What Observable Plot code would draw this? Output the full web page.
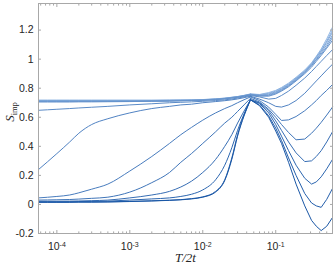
<!DOCTYPE html>
<html><head><meta charset="utf-8">
<script src="https://cdn.jsdelivr.net/npm/d3@7"></script>
<script src="https://cdn.jsdelivr.net/npm/@observablehq/plot@0.6"></script>
<style>html,body{margin:0;padding:0;background:#fff}svg{display:block}</style>
</head><body><div id="chart"></div>
<script>
// temperature grid T/2t
const T = [5.6e-5,1e-4,1.5e-4,2e-4,3e-4,5e-4,1e-3,2e-3,3.5e-3,5e-3,7e-3,0.01,0.015,0.02,0.025,0.03,0.045,
           0.06,0.08,0.1,0.12,0.15,0.19,0.25,0.31,0.36,0.42,0.5,0.6];
// S_imp curves, lightest (s0) to darkest (s13)
const s0  = [0.718,0.718,0.718,0.718,0.718,0.718,0.718,0.718,0.719,0.72,0.72,0.722,0.727,0.732,0.738,0.743,0.76, 0.757,0.77,0.785,0.805,0.835,0.875,0.925,0.975,1.02,1.07,1.14,1.22];
const s1  = [0.716,0.716,0.716,0.716,0.716,0.716,0.716,0.716,0.717,0.718,0.719,0.721,0.726,0.731,0.737,0.742,0.76, 0.755,0.765,0.78,0.80,0.83,0.87,0.92,0.97,1.015,1.06,1.125,1.20];
const s2  = [0.714,0.714,0.714,0.714,0.714,0.714,0.714,0.715,0.716,0.717,0.718,0.72,0.725,0.73,0.736,0.741,0.758, 0.752,0.76,0.775,0.795,0.825,0.865,0.915,0.965,1.01,1.055,1.115,1.185];
const s3  = [0.712,0.712,0.712,0.712,0.712,0.712,0.712,0.713,0.714,0.715,0.717,0.719,0.724,0.729,0.735,0.74,0.757, 0.75,0.755,0.77,0.79,0.82,0.86,0.91,0.96,1.0,1.045,1.10,1.165];
const s4  = [0.709,0.709,0.709,0.709,0.709,0.709,0.71,0.711,0.712,0.714,0.716,0.718,0.723,0.728,0.734,0.739,0.756, 0.75,0.75,0.765,0.785,0.815,0.855,0.905,0.955,0.995,1.035,1.085,1.15];
const s5  = [0.705,0.705,0.705,0.706,0.706,0.707,0.708,0.71,0.711,0.713,0.715,0.717,0.722,0.727,0.733,0.738,0.755, 0.745,0.745,0.76,0.78,0.81,0.85,0.90,0.945,0.985,1.025,1.075,1.13];
const s6  = [0.648,0.655,0.66,0.664,0.669,0.675,0.685,0.693,0.70,0.703,0.706,0.71,0.715,0.72,0.726,0.732,0.75, 0.74,0.725,0.73,0.75,0.78,0.82,0.87,0.915,0.95,0.985,1.025,1.065];
const s7  = [0.24,0.35,0.43,0.49,0.55,0.59,0.63,0.66,0.675,0.685,0.69,0.70,0.708,0.714,0.72,0.726,0.745, 0.725,0.70,0.675,0.67,0.685,0.715,0.765,0.815,0.85,0.885,0.925,0.965];
const s8  = [0.045,0.055,0.065,0.08,0.105,0.14,0.23,0.33,0.42,0.48,0.53,0.58,0.63,0.66,0.68,0.70,0.74, 0.715,0.67,0.62,0.578,0.582,0.605,0.645,0.685,0.715,0.75,0.785,0.825];
const s9  = [0.03,0.032,0.034,0.037,0.042,0.05,0.085,0.15,0.22,0.29,0.35,0.42,0.5,0.56,0.60,0.64,0.73, 0.705,0.655,0.60,0.55,0.495,0.445,0.45,0.49,0.525,0.565,0.615,0.67];
const s10 = [0.022,0.022,0.023,0.024,0.026,0.03,0.045,0.065,0.09,0.12,0.16,0.22,0.31,0.40,0.48,0.56,0.72, 0.70,0.645,0.575,0.51,0.43,0.355,0.295,0.30,0.33,0.37,0.43,0.50];
const s11 = [0.018,0.018,0.019,0.02,0.021,0.023,0.03,0.038,0.045,0.055,0.07,0.10,0.17,0.27,0.39,0.51,0.72, 0.695,0.63,0.55,0.47,0.37,0.27,0.18,0.14,0.155,0.19,0.245,0.31];
const s12 = [0.016,0.016,0.016,0.017,0.017,0.018,0.021,0.025,0.029,0.033,0.04,0.052,0.09,0.17,0.32,0.48,0.72, 0.685,0.61,0.525,0.44,0.32,0.20,0.075,0.01,-0.01,-0.02,0.035,0.11];
const s13 = [0.015,0.015,0.015,0.016,0.016,0.017,0.02,0.024,0.028,0.032,0.038,0.05,0.085,0.165,0.31,0.47,0.72, 0.68,0.60,0.505,0.42,0.29,0.14,-0.01,-0.11,-0.15,-0.18,-0.15,-0.09];
const curves = [s0,s1,s2,s3,s4,s5,s6,s7,s8,s9,s10,s11,s12,s13];

const yTicks = [-0.2,0,0.2,0.4,0.6,0.8,1,1.2];
const yTickLabels = ["-0.2","0","0.2","0.4","0.6","0.8","1","1.2"];
const xMajor = [1e-4,1e-3,1e-2,1e-1];
const xMajorLabels = ["10^-4","10^-3","10^-2","10^-1"];
const xDomain = [5.6e-5, 0.6];
const yDomain = [-0.2, 1.383];
const tPeak = 0.045;
const xMinor = [];
for (let e = -5; e <= -1; e++) for (let m = 2; m <= 9; m++) {
  const v = m * Math.pow(10, e);
  if (v >= xDomain[0] && v <= xDomain[1]) xMinor.push(v);
}

const colorOf = d3.interpolateRgb("#92b7e4", "#1a57a6");
const rows = curves.flatMap((c, k) => c.map((v, i) => ({T: T[i], S: v, k, c: colorOf(k / (curves.length - 1))})));
const lowRows = rows.filter(d => d.T <= tPeak);
const highRows = rows.filter(d => d.T >= tPeak);

const gray = "#a8a8a8";
const ink = "#262626";
const blank = () => "";
const plot = Plot.plot({
  width: 336, height: 267,
  marginLeft: 38, marginRight: 4, marginTop: 3, marginBottom: 34,
  style: {fontFamily: "'Liberation Sans', Arial, sans-serif", fontSize: "10.5px", color: ink, background: "#fff"},
  x: {type: "log", domain: xDomain},
  y: {domain: yDomain},
  color: {type: "identity"},
  marks: [
    Plot.line(lowRows, {x: "T", y: "S", z: "k", stroke: "c", strokeWidth: 1, curve: "monotone-x"}),
    Plot.line(highRows, {x: "T", y: "S", z: "k", stroke: "c", strokeWidth: 1}),
    Plot.frame({stroke: gray}),
    Plot.axisY({ticks: yTicks, anchor: "left", tickSize: -3, tickFormat: blank, color: gray, label: null}),
    Plot.axisY({ticks: yTicks, anchor: "right", tickSize: -3, tickFormat: blank, color: gray, label: null}),
    Plot.axisY({ticks: yTicks, anchor: "left", tickSize: 0, tickPadding: 5, tickFormat: d => yTickLabels[yTicks.indexOf(d)], color: ink, label: null}),
    Plot.axisX({ticks: xMajor, anchor: "bottom", tickSize: -3, tickFormat: blank, color: gray, label: null}),
    Plot.axisX({ticks: xMinor, anchor: "bottom", tickSize: -1.6, tickFormat: blank, color: gray, label: null}),
    Plot.axisX({ticks: xMajor, anchor: "top", tickSize: -3, tickFormat: blank, color: gray, label: null}),
    Plot.axisX({ticks: xMinor, anchor: "top", tickSize: -1.6, tickFormat: blank, color: gray, label: null}),
    Plot.axisX({ticks: xMajor, anchor: "bottom", tickSize: 0, tickPadding: 9, tickFormat: d => xMajorLabels[xMajor.indexOf(d)], color: ink, label: null})
  ]
});
document.getElementById("chart").appendChild(plot);

const svg = d3.select(plot);
// superscript exponents on the x tick labels
svg.selectAll("g[aria-label='x-axis tick label'] text").each(function() {
  const t = d3.select(this);
  const s = this.textContent;
  if (!s.includes("^")) return;
  const [base, exp] = s.split("^");
  t.text(null);
  t.append("tspan").text(base);
  t.append("tspan").attr("dy", "-0.45em").attr("font-size", "7px").text(exp);
});
// axis titles
const yl = svg.append("text")
  .attr("transform", "translate(14,112) rotate(-90)")
  .attr("text-anchor", "middle")
  .attr("font-family", "'Liberation Serif', 'Times New Roman', serif")
  .attr("font-size", 13).attr("fill", ink);
yl.append("tspan").attr("font-style", "italic").text("S");
yl.append("tspan").attr("font-size", 8.5).attr("dy", "0.35em").text("imp");
svg.append("text")
  .attr("x", 185.5).attr("y", 262)
  .attr("text-anchor", "middle")
  .attr("font-family", "'Liberation Serif', 'Times New Roman', serif")
  .attr("font-style", "italic").attr("font-size", 13).attr("fill", ink)
  .text("T/2t");
</script></body></html>
